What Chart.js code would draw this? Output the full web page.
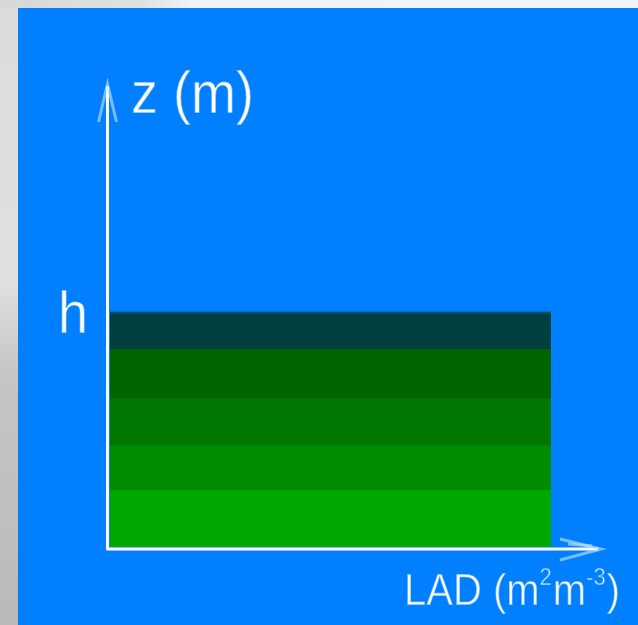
<!DOCTYPE html>
<html>
<head>
<meta charset="utf-8">
<script src="https://cdn.jsdelivr.net/npm/chart.js@4/dist/chart.umd.min.js"></script>
<style>
html,body{margin:0;padding:0;background:#0080ff;overflow:hidden;}
canvas{display:block;}
</style>
</head>
<body>
<canvas id="c" width="638" height="625"></canvas>
<script>
// ---- data (bottom layer first) ----
const categories = ['LAD'];
const layerNames = ['Layer 1', 'Layer 2', 'Layer 3', 'Layer 4', 'Layer 5'];
const layerThickness = [2.4, 1.9, 2.0, 2.1, 1.6];   // z units, canopy height h = 10
const canopyHeight = 10;
const zMax = 20;
const yTickLabels = ['h'];
const xAxisTitle = ['LAD (m', '2', 'm', '-3', ')'];
const yAxisTitle = 'z (m)';

// ---- styles ----
const layerColors = ['#00a800', '#008c00', '#007800', '#006400', '#003f40'];
const BG_BLUE = '#0080ff';

const bgPlugin = {
  id: 'bg',
  beforeDraw(chart) {
    const ctx = chart.ctx;
    ctx.save();
    const g = ctx.createLinearGradient(0, 0, 0, 625);
    g.addColorStop(0, '#dadcdc');
    g.addColorStop(0.45, '#dfe1e0');
    g.addColorStop(0.6, '#c4c6c4');
    g.addColorStop(1, '#b9b9b9');
    ctx.fillStyle = g;
    ctx.fillRect(0, 0, 638, 625);
    const t = ctx.createLinearGradient(0, 0, 638, 0);
    t.addColorStop(0, '#d6d8d8');
    t.addColorStop(0.22, '#dfe2e2');
    t.addColorStop(0.3, '#eef3f8');
    t.addColorStop(1, '#f2f6fa');
    ctx.fillStyle = t;
    ctx.fillRect(0, 0, 638, 8);
    ctx.fillStyle = BG_BLUE;
    ctx.fillRect(18, 8, 620, 617);
    ctx.restore();
  }
};

function thinText(ctx, text, x, y) {
  ctx.fillText(text, x, y);
  ctx.save();
  ctx.strokeStyle = 'rgba(0,128,255,0.55)';
  ctx.lineWidth = 1.2;
  ctx.strokeText(text, x, y);
  ctx.restore();
}

const axesPlugin = {
  id: 'axesDecor',
  afterDraw(chart) {
    const ctx = chart.ctx;
    const a = chart.chartArea;
    const ys = chart.scales.y;
    const x0 = a.left - 2.5;
    const y0 = a.bottom + 2;
    ctx.save();
    // top edge of the canopy
    const hy = ys.getPixelForValue(canopyHeight);
    ctx.fillStyle = 'rgba(10,80,110,0.8)';
    ctx.fillRect(a.left, hy, a.right - a.left, 2);
    // axis lines
    ctx.strokeStyle = '#ffffff';
    ctx.lineWidth = 3;
    ctx.beginPath();
    ctx.moveTo(x0, y0 + 1);
    ctx.lineTo(x0, 86);
    ctx.stroke();
    ctx.beginPath();
    ctx.moveTo(x0 - 1, y0);
    ctx.lineTo(598, y0);
    ctx.stroke();
    // arrow heads (faint)
    ctx.strokeStyle = 'rgba(200,230,255,0.6)';
    ctx.lineWidth = 3;
    ctx.beginPath();
    ctx.moveTo(x0 - 9, 122);
    ctx.lineTo(x0, 84);
    ctx.lineTo(x0 + 9, 122);
    ctx.stroke();
    ctx.beginPath();
    ctx.moveTo(560, y0 - 10);
    ctx.lineTo(601, y0);
    ctx.lineTo(560, y0 + 11);
    ctx.stroke();
    ctx.beginPath();
    ctx.moveTo(568, y0 - 5);
    ctx.lineTo(592, y0 - 3);
    ctx.stroke();

    // text
    ctx.fillStyle = '#ffffff';
    ctx.textBaseline = 'alphabetic';
    ctx.textAlign = 'left';
    // y axis title
    ctx.save();
    ctx.translate(131, 113);
    ctx.scale(1, 1.1);
    ctx.font = '54px "Liberation Sans", Arial, sans-serif';
    thinText(ctx, yAxisTitle, 0, 0);
    ctx.restore();
    // h tick
    ctx.save();
    ctx.translate(58, hy + 21);
    ctx.scale(1, 1.1);
    ctx.font = '54px "Liberation Sans", Arial, sans-serif';
    thinText(ctx, yTickLabels[0], 0, 0);
    ctx.restore();
    // x axis title with superscripts
    ctx.save();
    ctx.translate(404, 605);
    ctx.scale(1, 1.1);
    let cx = 0;
    const big = '40px "Liberation Sans", Arial, sans-serif';
    const small = '22px "Liberation Sans", Arial, sans-serif';
    xAxisTitle.forEach((part, i) => {
      const sup = (i % 2 === 1);
      ctx.font = sup ? small : big;
      thinText(ctx, part, cx, sup ? -18 : 0);
      cx += ctx.measureText(part).width + (sup ? 1 : 0);
    });
    ctx.restore();
    ctx.restore();
  }
};

const datasets = layerNames.map((name, i) => ({
  label: name,
  data: [layerThickness[i]],
  backgroundColor: layerColors[i],
  borderWidth: 0,
  barPercentage: 1,
  categoryPercentage: 1,
  stack: 'canopy'
}));

new Chart(document.getElementById('c'), {
  type: 'bar',
  data: { labels: categories, datasets },
  options: {
    responsive: false,
    animation: false,
    devicePixelRatio: 1,
    layout: { padding: { left: 110, right: 87, top: 77, bottom: 78 } },
    scales: {
      x: { display: false, stacked: true },
      y: { display: false, stacked: true, min: 0, max: zMax }
    },
    plugins: { legend: { display: false }, tooltip: { enabled: false } }
  },
  plugins: [bgPlugin, axesPlugin]
});
</script>
</body>
</html>
